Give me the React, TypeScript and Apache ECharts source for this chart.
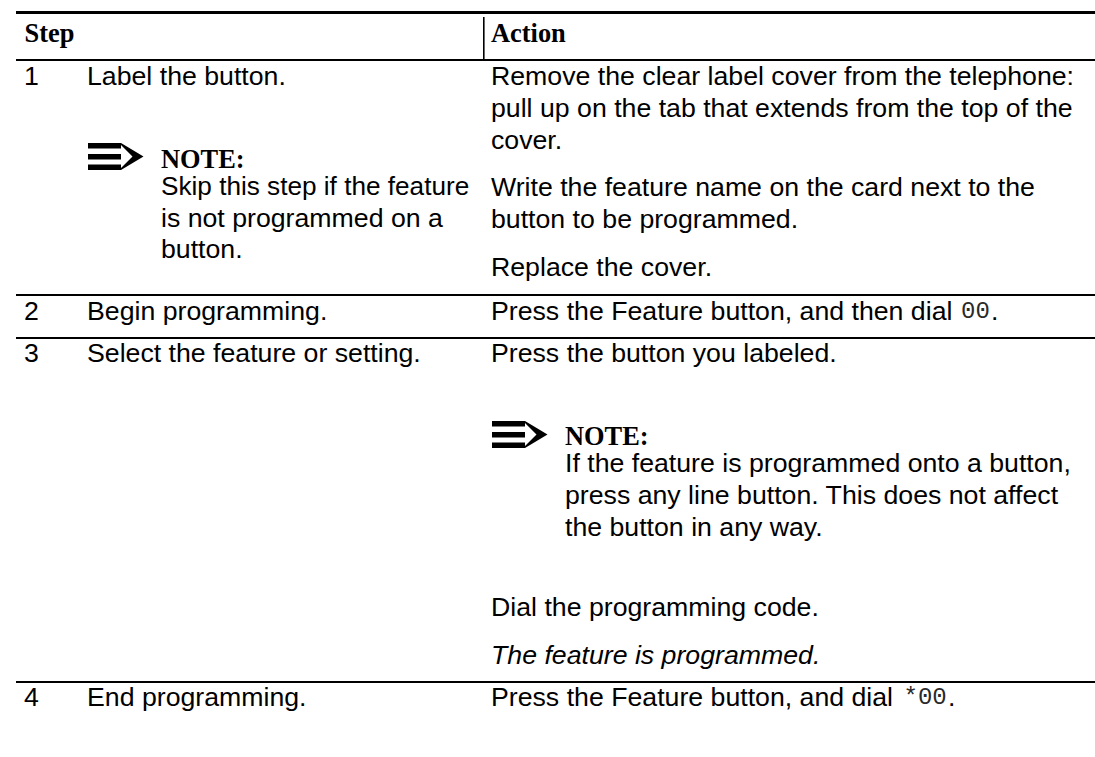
import React, { useEffect, useRef } from "react";
import * as echarts from "echarts";

const SANS = "'Liberation Sans', Arial, sans-serif";
const SERIF = "'Liberation Serif', 'Times New Roman', serif";
const MONO = "'Liberation Mono', monospace";

const headers = ["Step", "Action"];
const stepNumbers = ["1", "2", "3", "4"];
const stepTitles = ["Label the button.", "Begin programming.", "Select the feature or setting.", "End programming."];
const noteLabel = "NOTE:";
const skipNote = ["Skip this step if the feature", "is not programmed on a", "button."];
const removeCover = ["Remove the clear label cover from the telephone:", "pull up on the tab that extends from the top of the", "cover."];
const writeName = ["Write the feature name on the card next to the", "button to be programmed."];
const replaceCover = "Replace the cover.";
const pressDial = "Press the Feature button, and then dial";
const pressDialCode = "00";
const pressLabeled = "Press the button you labeled.";
const labeledNote = ["If the feature is programmed onto a button,", "press any line button. This does not affect", "the button in any way."];
const dialCode = "Dial the programming code.";
const programmed = "The feature is programmed.";
const pressEnd = "Press the Feature button, and dial";
const pressEndCode = "*00";

const FS = 26.7;
const txt = (text: string, x: number, y: number, style: any = {}) => {
  const size = style.fontSize || FS;
  return {
    type: "text",
    x,
    y: y - size * 0.885,
    scaleX: style.scaleX || 1,
    silent: true,
    style: {
      text,
      fill: style.fill || "#000",
      font: `${style.fontStyle || "normal"} ${style.fontWeight || "normal"} ${size}px ${style.fontFamily || SANS}`,
    },
  };
};
const rule = (x1: number, y: number, x2: number, w: number) => ({
  type: "rect",
  silent: true,
  shape: { x: x1, y: y - w / 2, width: x2 - x1, height: w },
  style: { fill: "#000" },
});
const arrow = (x: number, y: number) => ({
  type: "group",
  x,
  y,
  silent: true,
  children: [
    { type: "rect", shape: { x: 0, y: 0, width: 33, height: 5.5 }, style: { fill: "#000" } },
    { type: "rect", shape: { x: 0, y: 11, width: 33, height: 5.5 }, style: { fill: "#000" } },
    { type: "rect", shape: { x: 0, y: 21.5, width: 33, height: 5.5 }, style: { fill: "#000" } },
    { type: "polygon", shape: { points: [[33, 0], [55.5, 13.5], [33, 27], [33, 25], [44.5, 13.5], [33, 2]] }, style: { fill: "#000" } },
  ],
});
const lines = (rows: string[], x: number, ys: number[], scales: number[] = []) =>
  rows.map((t, i) => txt(t, x, ys[i], { scaleX: scales[i] }));
const boldSerif = { fontFamily: SERIF, fontWeight: "bold", fontSize: 26.4 };
const noteHead = (x: number, y: number) => txt(noteLabel, x, y, boldSerif);
const mono = { fontFamily: MONO, fontSize: 24, fill: "#2a2a2a" };

export default function App() {
  const ref = useRef<HTMLDivElement>(null);
  useEffect(() => {
    const chart = echarts.init(ref.current!, undefined, { renderer: "svg", width: 1095, height: 757 });
    chart.setOption({
      animation: false,
      backgroundColor: "#fff",
      graphic: {
        elements: [
          rule(16, 12.5, 1095, 3),
          rule(16, 60, 1095, 2),
          rule(16, 295, 1095, 2),
          rule(16, 338, 1095, 2),
          rule(16, 682, 1095, 2),
          { type: "rect", silent: true, shape: { x: 483, y: 17, width: 1.6, height: 43 }, style: { fill: "#000" } },
          txt(headers[0], 24.5, 43, boldSerif),
          txt(headers[1], 491, 43, boldSerif),
          txt(stepNumbers[0], 24, 86),
          txt(stepNumbers[1], 24, 321),
          txt(stepNumbers[2], 24, 363),
          txt(stepNumbers[3], 24, 707),
          txt(stepTitles[0], 87, 86),
          txt(stepTitles[1], 87, 321),
          txt(stepTitles[2], 87, 363),
          txt(stepTitles[3], 87, 707),
          arrow(88, 143),
          noteHead(161, 169),
          ...lines(skipNote, 161, [196, 228, 259], [0.98]),
          ...lines(removeCover, 491, [86, 118, 150]),
          ...lines(writeName, 491, [197, 229]),
          txt(replaceCover, 491, 277),
          txt(pressDial, 491, 321),
          txt(pressDialCode, 961, 321, mono),
          txt(".", 991, 321),
          txt(pressLabeled, 491, 363),
          arrow(492, 421),
          noteHead(565, 446),
          ...lines(labeledNote, 565, [473, 505, 537]),
          txt(dialCode, 491, 617),
          txt(programmed, 491, 665, { fontStyle: "italic" }),
          txt(pressEnd, 491, 707),
          txt(pressEndCode, 903.5, 707, mono),
          txt(".", 948, 707),
        ],
      },
    });
    return () => chart.dispose();
  }, []);
  return <div ref={ref} style={{ position: "fixed", left: 0, top: 0, width: 1095, height: 757 }} />;
}
